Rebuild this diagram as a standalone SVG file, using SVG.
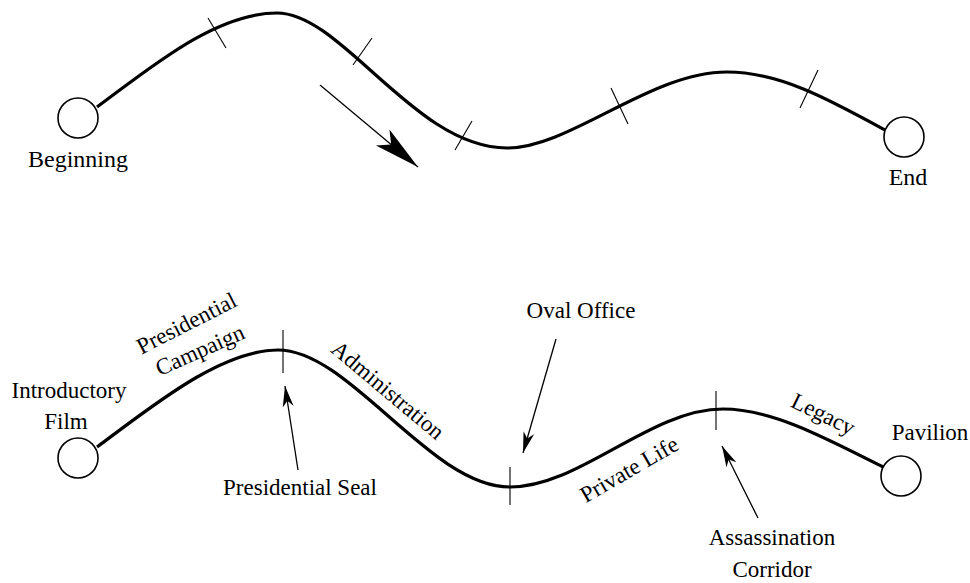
<svg xmlns="http://www.w3.org/2000/svg" width="970" height="583" viewBox="0 0 970 583">
  <style>
    .lbl { font-family: 'Liberation Serif', 'Times New Roman', serif; font-size: 23px; fill: #000; }
    .big { font-size: 24px; }
    .mid { text-anchor: middle; }
    .node { fill: #fff; stroke: #000; stroke-width: 1.6; }
    .path { fill: none; stroke: #000; stroke-width: 3.2; stroke-linecap: butt; }
    .tick { fill: none; stroke: #000; stroke-width: 1.1; }
    .ptr { fill: none; stroke: #000; stroke-width: 1.3; }
  </style>
  <defs>
    <marker id="headSmall" markerUnits="userSpaceOnUse" orient="auto" refX="0" refY="0" markerWidth="24" markerHeight="14" viewBox="-22 -7 24 14" overflow="visible">
      <path d="M0,0 L-21,-5.5 L-15,0 L-21,5.5 Z" fill="#000"/>
    </marker>
    <marker id="headBig" markerUnits="userSpaceOnUse" orient="auto" refX="0" refY="0" markerWidth="50" markerHeight="26" viewBox="-48 -13 50 26" overflow="visible">
      <path d="M0,0 L-46,-10.5 L-35,0 L-46,10.5 Z" fill="#000"/>
    </marker>
  </defs>

  <g id="connectors">
    <!-- upper route: generic journey with direction arrow -->
    <path class="path" d="M97,107 C150,68 215,13 277,13 C342,13 415,148 507,148 C570,148 650,72 727,72 C780,72 830,100 885,130"/>
    <g class="tick">
      <line x1="208" y1="18" x2="226" y2="48"/>
      <line x1="372" y1="38" x2="353" y2="65"/>
      <line x1="472" y1="121" x2="455" y2="150"/>
      <line x1="611" y1="88" x2="628" y2="124"/>
      <line x1="818" y1="70" x2="800" y2="108"/>
    </g>
    <line class="ptr" x1="320" y1="85" x2="418" y2="167" marker-end="url(#headBig)"/>

    <!-- lower route: museum sequence -->
    <path class="path" d="M97,447 C150,408 220,350 278,350 C350,350 430,487 510,487 C580,487 650,409 723,409 C770,409 820,435 883,467"/>
    <g class="tick">
      <line x1="283" y1="330" x2="283" y2="373"/>
      <line x1="510" y1="467" x2="510" y2="505"/>
      <line x1="716" y1="391" x2="716" y2="430"/>
    </g>
    <line class="ptr" x1="298" y1="470" x2="285" y2="386" marker-end="url(#headSmall)"/>
    <line class="ptr" x1="556" y1="339" x2="523" y2="453" marker-end="url(#headSmall)"/>
    <line class="ptr" x1="758" y1="518" x2="722" y2="446" marker-end="url(#headSmall)"/>
  </g>

  <g id="beginning">
    <circle class="node" cx="78" cy="118" r="20"/>
    <text class="lbl big mid" x="78" y="167">Beginning</text>
  </g>
  <g id="end">
    <circle class="node" cx="904" cy="137" r="20"/>
    <text class="lbl big mid" x="908" y="185">End</text>
  </g>

  <g id="introductory-film">
    <circle class="node" cx="78" cy="458" r="20"/>
    <text class="lbl mid" x="69" y="398">Introductory</text>
    <text class="lbl mid" x="66" y="429">Film</text>
  </g>
  <g id="pavilion">
    <circle class="node" cx="901" cy="476" r="20"/>
    <text class="lbl mid" x="930" y="440">Pavilion</text>
  </g>

  <g id="section-labels">
    <text class="lbl mid" transform="translate(190,330) rotate(-27)">Presidential</text>
    <text class="lbl mid" transform="translate(203,357) rotate(-24)">Campaign</text>
    <text class="lbl mid" transform="translate(383,396) rotate(40)">Administration</text>
    <text class="lbl mid" transform="translate(633,476) rotate(-30)">Private Life</text>
    <text class="lbl mid" transform="translate(820,421) rotate(26)">Legacy</text>
  </g>

  <g id="callouts">
    <text class="lbl mid" x="300" y="495">Presidential Seal</text>
    <text class="lbl mid" x="581" y="318">Oval Office</text>
    <text class="lbl mid" x="772" y="545">Assassination</text>
    <text class="lbl mid" x="772" y="577">Corridor</text>
  </g>
</svg>
